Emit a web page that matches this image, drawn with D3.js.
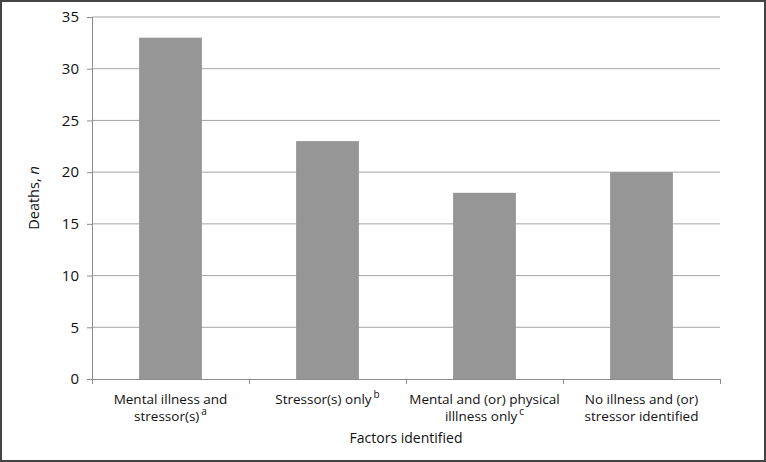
<!DOCTYPE html>
<html>
<head>
<meta charset="utf-8">
<script src="https://cdn.jsdelivr.net/npm/d3@7"></script>
<style>
  body { margin: 0; background: #fff; }
  svg { display: block; font-family: "Open Sans", "Noto Sans", sans-serif; }
</style>
</head>
<body>
<div id="chart"></div>
<script>
/* chart data */
var categories = ["mi", "st", "mp", "no"];
var labelLines = [
    [["Mental illness and", ""], ["stressor(s)", "a"]],
    [["Stressor(s) only", "b"]],
    [["Mental  and (or) physical", ""], ["illlness only", "c"]],
    [["No illness and (or)", ""], ["stressor identified", ""]]
];
var deaths = [33, 23, 18, 20];
var yTicks = [0, 5, 10, 15, 20, 25, 30, 35];

var width = 766, height = 462,
    margin = { top: 17, right: 46, bottom: 83, left: 92 },
    plotW = width - margin.left - margin.right,
    plotH = height - margin.top - margin.bottom;

var svg = d3.select("#chart")
            .append("svg")
            .attr("width", width)
            .attr("height", height);

/* outer frame */
svg.append("rect")
    .attr("x", 1).attr("y", 1)
    .attr("width", width - 2).attr("height", height - 2)
    .attr("fill", "none")
    .attr("stroke", "#444")
    .attr("stroke-width", 2);

var chart = svg.append("g")
                .attr("transform", "translate(" + margin.left + "," + margin.top + ")");

var x = d3.scaleBand().domain(categories).range([0, plotW]).padding(0);
var y = d3.scaleLinear().domain([0, 35]).range([plotH, 0]);

/* gridlines */
chart.append("g")
    .selectAll("line")
    .data(yTicks.slice(1))
    .enter().append("line")
        .attr("x1", 0).attr("x2", plotW)
        .attr("y1", function(d) { return y(d); })
        .attr("y2", function(d) { return y(d); })
        .attr("stroke", "#a6a6a6")
        .attr("stroke-width", 1);

/* bars */
var barW = x.bandwidth() * 0.4;
chart.append("g")
    .selectAll("rect")
    .data(deaths)
    .enter().append("rect")
        .attr("x", function(d, i) { return x(categories[i]) + (x.bandwidth() - barW) / 2; })
        .attr("y", function(d) { return y(d); })
        .attr("width", barW)
        .attr("height", function(d) { return y(0) - y(d); })
        .attr("fill", "#969696");

/* y axis */
var yAxis = d3.axisLeft(y).tickValues(yTicks).tickSize(5).tickPadding(8);
var gy = chart.append("g").call(yAxis);
gy.select(".domain").attr("stroke", "#8c8c8c").attr("d", "M0.5," + plotH + "V0");
gy.selectAll(".tick line").attr("stroke", "#8c8c8c");
gy.selectAll(".tick text").attr("font-size", 15).attr("fill", "#111")
    .attr("font-family", "'Open Sans', sans-serif");

/* x axis: ticks at band edges */
var gx = chart.append("g").attr("transform", "translate(0," + plotH + ")");
gx.append("line")
    .attr("x1", 0).attr("x2", plotW)
    .attr("y1", 0.5).attr("y2", 0.5)
    .attr("stroke", "#8c8c8c");
gx.selectAll("line.tk")
    .data(categories.concat(["end"]))
    .enter().append("line")
        .attr("class", "tk")
        .attr("x1", function(d, i) { return Math.round(i * x.step()) + 0.5; })
        .attr("x2", function(d, i) { return Math.round(i * x.step()) + 0.5; })
        .attr("y1", 0).attr("y2", 5)
        .attr("stroke", "#8c8c8c");

/* category labels */
var lab = gx.selectAll("g.lab")
    .data(labelLines)
    .enter().append("g")
        .attr("class", "lab")
        .attr("transform", function(d, i) { return "translate(" + (x(categories[i]) + x.bandwidth() / 2) + ",0)"; });

lab.each(function(lines) {
    var g = d3.select(this);
    lines.forEach(function(ln, j) {
        var t = g.append("text")
            .attr("text-anchor", "middle")
            .attr("y", 25 + j * 17)
            .attr("font-size", 13.5)
            .attr("fill", "#111");
        t.append("tspan").text(ln[0]);
        if (ln[1]) {
            t.append("tspan").attr("dy", -6).attr("dx", 2).attr("font-size", 10).text(ln[1]);
        }
    });
});

/* axis titles */
chart.append("text")
    .attr("x", plotW / 2)
    .attr("y", plotH + 64)
    .attr("text-anchor", "middle")
    .attr("font-size", 14)
    .attr("fill", "#111")
    .text("Factors identified");

var yl = chart.append("text")
    .attr("transform", "translate(" + (-53) + "," + (plotH / 2) + ")rotate(-90)")
    .attr("text-anchor", "middle")
    .attr("font-size", 14.5)
    .attr("fill", "#111");
yl.append("tspan").text("Deaths, ");
yl.append("tspan").attr("font-style", "italic").text("n");
</script>
</body>
</html>
